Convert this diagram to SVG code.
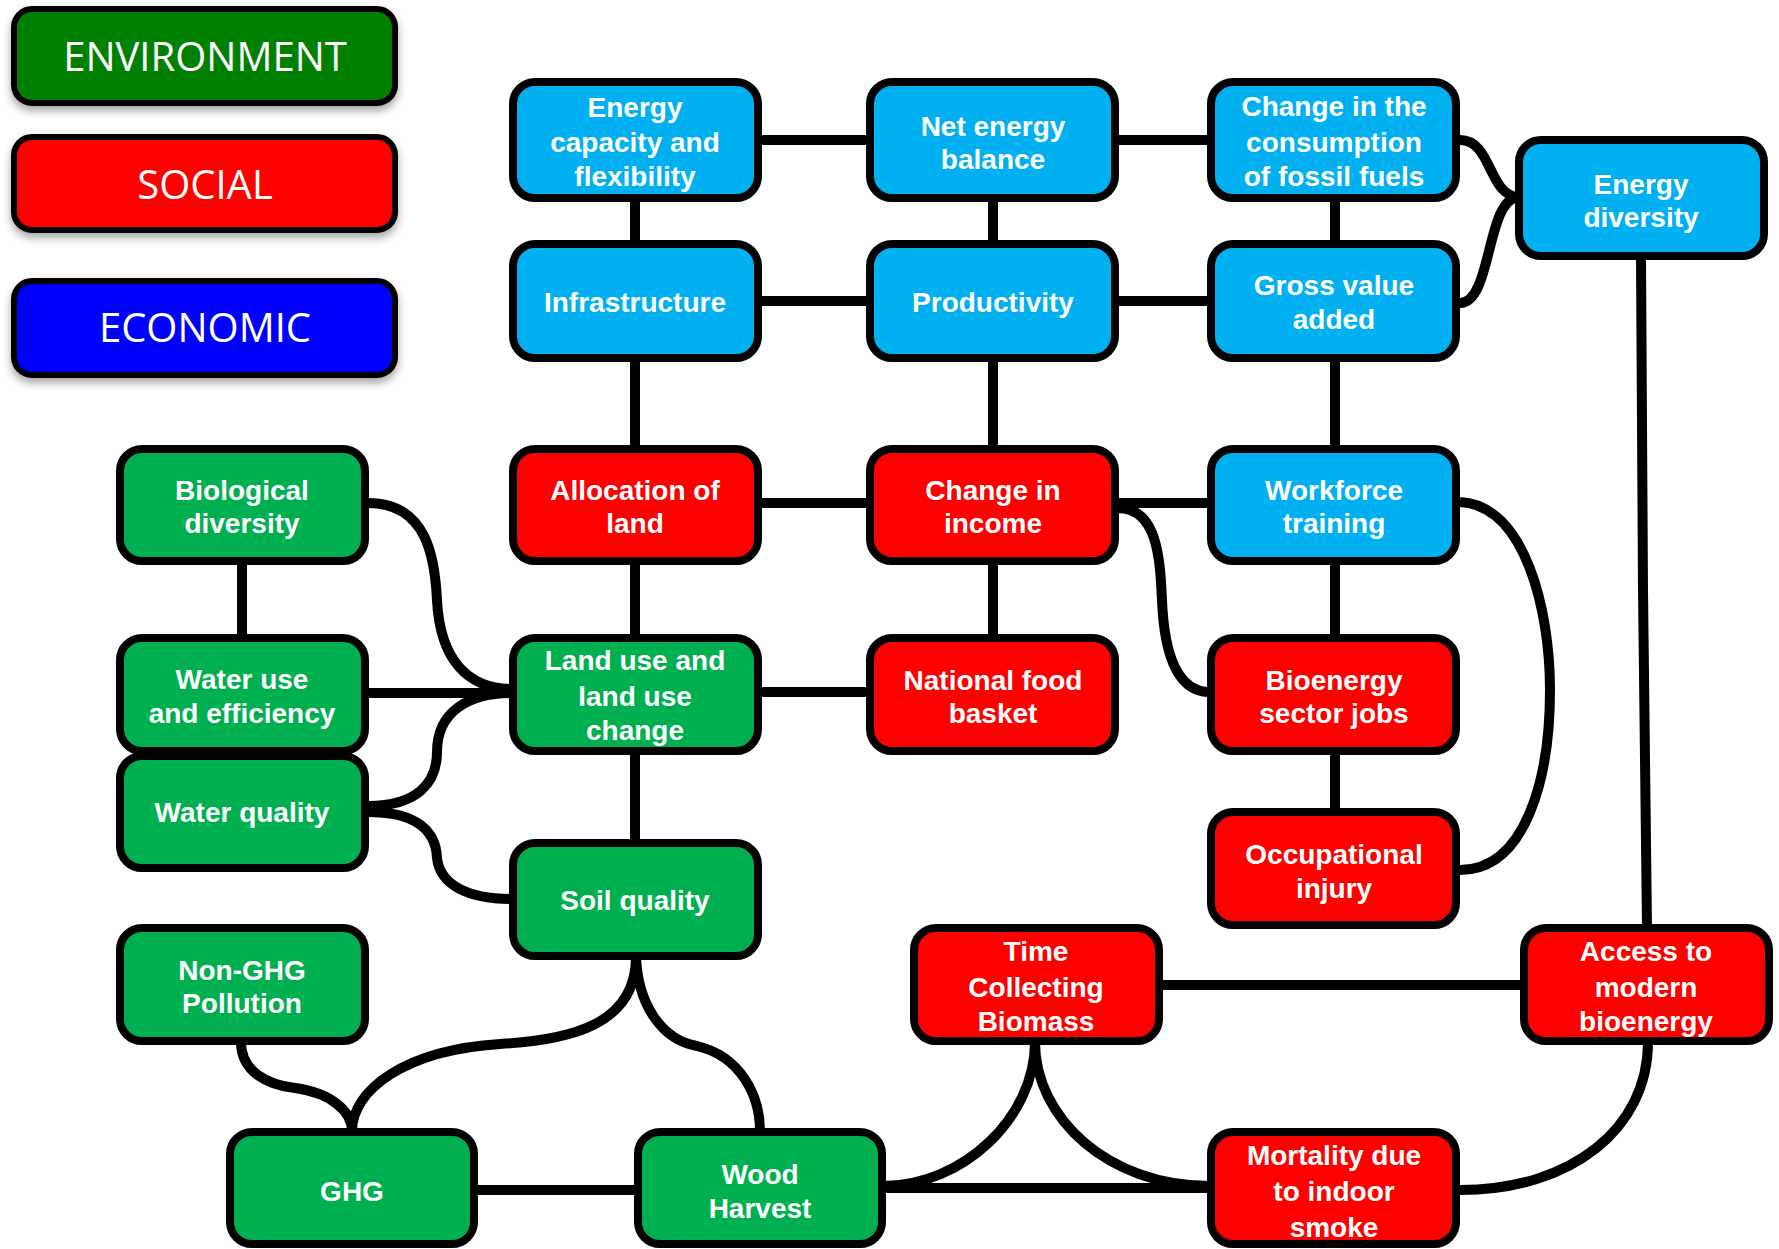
<svg xmlns="http://www.w3.org/2000/svg" width="1779" height="1249" viewBox="0 0 1779 1249">
<defs>
<filter id="sh" x="-10%" y="-10%" width="120%" height="140%">
<feDropShadow dx="0" dy="5" stdDeviation="4" flood-color="#000" flood-opacity="0.35"/>
</filter>
</defs>
<style>
.leg{stroke:#000;stroke-width:6;filter:url(#sh)}
.lt{font-family:"Open Sans","Liberation Sans",sans-serif;font-size:40px;fill:#fff;text-anchor:middle}
.n{stroke:#000;stroke-width:8}
.blue{fill:#00B0F0}
.red{fill:#FF0000}
.green{fill:#00B050}
.t{font-family:"Liberation Sans",Arial,sans-serif;font-weight:bold;font-size:28px;fill:#fff;text-anchor:middle}
.c{fill:none;stroke:#000;stroke-width:10;stroke-linecap:butt}
</style>
<rect width="1779" height="1249" fill="#fff"/>

<g id="legend-environment">
<rect class="leg" x="14" y="9" width="381" height="94" rx="18" fill="#008000"/>
<text class="lt" x="205" y="71">ENVIRONMENT</text>
</g>
<g id="legend-social">
<rect class="leg" x="14" y="137" width="381" height="93" rx="18" fill="#FF0000"/>
<text class="lt" x="205" y="199">SOCIAL</text>
</g>
<g id="legend-economic">
<rect class="leg" x="14" y="281" width="381" height="94" rx="18" fill="#0000FF"/>
<text class="lt" x="205" y="342">ECONOMIC</text>
</g>

<g id="connectors">
<path class="c" d="M760,140 H868"/>
<path class="c" d="M1118,140 H1210"/>
<path class="c" d="M635,200 V243"/>
<path class="c" d="M993,200 V243"/>
<path class="c" d="M1335,200 V243"/>
<path class="c" d="M760,301 H868"/>
<path class="c" d="M1118,301 H1210"/>
<path class="c" d="M1460,140 C1492,140 1488,195 1518,197"/>
<path class="c" d="M1460,303 C1492,303 1486,200 1518,197"/>
<path class="c" d="M635,360 V448"/>
<path class="c" d="M993,360 V448"/>
<path class="c" d="M1335,360 V448"/>
<path class="c" d="M760,503 H868"/>
<path class="c" d="M1118,503 H1210"/>
<path class="c" d="M1118,508 C1158,508 1160,560 1162,600 C1164,650 1175,692 1210,692"/>
<path class="c" d="M1335,562 V637"/>
<path class="c" d="M1335,751 V811"/>
<path class="c" d="M1460,502 C1525,505 1550,610 1550,690 C1550,780 1525,870 1460,870"/>
<path class="c" d="M1641,258 L1643,590 L1647,927"/>
<path class="c" d="M242,562 V637"/>
<path class="c" d="M368,503 C428,503 435,560 437,600 C440,660 468,689 512,689"/>
<path class="c" d="M368,693 H512"/>
<path class="c" d="M368,806 C418,806 437,782 437,752 C437,712 468,693 512,693"/>
<path class="c" d="M368,812 C418,812 436,832 437,858 C440,885 468,899 512,899"/>
<path class="c" d="M635,562 V637"/>
<path class="c" d="M760,692 H868"/>
<path class="c" d="M993,562 V637"/>
<path class="c" d="M635,751 V842"/>
<path class="c" d="M636,957 C636,1025 570,1040 500,1044 C405,1050 352,1090 352,1131"/>
<path class="c" d="M636,957 C638,1005 662,1040 697,1046 C740,1056 760,1095 760,1131"/>
<path class="c" d="M241,1042 C241,1072 268,1085 295,1088 C332,1093 352,1112 352,1131"/>
<path class="c" d="M476,1190 H637"/>
<path class="c" d="M884,1188 H1210"/>
<path class="c" d="M884,1186 C962,1186 1035,1118 1035,1042"/>
<path class="c" d="M1035,1042 C1035,1118 1108,1186 1210,1186"/>
<path class="c" d="M1162,985 H1523"/>
<path class="c" d="M1648,1042 C1648,1128 1572,1190 1460,1190"/>
</g>

<g id="energy-capacity"><rect class="n blue" x="513" y="82" width="245" height="116" rx="22"/>
<text class="t" x="635" y="117">Energy</text><text class="t" x="635" y="152">capacity and</text><text class="t" x="635" y="186">flexibility</text></g>
<g id="net-energy-balance"><rect class="n blue" x="870" y="82" width="245" height="116" rx="22"/>
<text class="t" x="993" y="136">Net energy</text><text class="t" x="993" y="169">balance</text></g>
<g id="fossil-fuels"><rect class="n blue" x="1211" y="82" width="245" height="116" rx="22"/>
<text class="t" x="1334" y="116">Change in the</text><text class="t" x="1334" y="152">consumption</text><text class="t" x="1334" y="186">of fossil fuels</text></g>
<g id="energy-diversity"><rect class="n blue" x="1519" y="140" width="245" height="116" rx="22"/>
<text class="t" x="1641" y="194">Energy</text><text class="t" x="1641" y="227">diversity</text></g>

<g id="infrastructure"><rect class="n blue" x="513" y="244" width="245" height="114" rx="22"/>
<text class="t" x="635" y="312">Infrastructure</text></g>
<g id="productivity"><rect class="n blue" x="870" y="244" width="245" height="114" rx="22"/>
<text class="t" x="993" y="312">Productivity</text></g>
<g id="gross-value-added"><rect class="n blue" x="1211" y="244" width="245" height="114" rx="22"/>
<text class="t" x="1334" y="295">Gross value</text><text class="t" x="1334" y="329">added</text></g>

<g id="allocation-of-land"><rect class="n red" x="513" y="449" width="245" height="112" rx="22"/>
<text class="t" x="635" y="500">Allocation of</text><text class="t" x="635" y="533">land</text></g>
<g id="change-in-income"><rect class="n red" x="870" y="449" width="245" height="112" rx="22"/>
<text class="t" x="993" y="500">Change in</text><text class="t" x="993" y="533">income</text></g>
<g id="workforce-training"><rect class="n blue" x="1211" y="449" width="245" height="112" rx="22"/>
<text class="t" x="1334" y="500">Workforce</text><text class="t" x="1334" y="533">training</text></g>

<g id="biological-diversity"><rect class="n green" x="120" y="449" width="245" height="112" rx="22"/>
<text class="t" x="242" y="500">Biological</text><text class="t" x="242" y="533">diversity</text></g>
<g id="water-use"><rect class="n green" x="120" y="638" width="245" height="113" rx="22"/>
<text class="t" x="242" y="689">Water use</text><text class="t" x="242" y="723">and efficiency</text></g>
<g id="water-quality"><rect class="n green" x="120" y="756" width="245" height="112" rx="22"/>
<text class="t" x="242" y="822">Water quality</text></g>
<g id="non-ghg-pollution"><rect class="n green" x="120" y="928" width="245" height="113" rx="22"/>
<text class="t" x="242" y="980">Non-GHG</text><text class="t" x="242" y="1013">Pollution</text></g>

<g id="land-use"><rect class="n green" x="513" y="638" width="245" height="113" rx="22"/>
<text class="t" x="635" y="670">Land use and</text><text class="t" x="635" y="706">land use</text><text class="t" x="635" y="740">change</text></g>
<g id="national-food-basket"><rect class="n red" x="870" y="638" width="245" height="113" rx="22"/>
<text class="t" x="993" y="690">National food</text><text class="t" x="993" y="723">basket</text></g>
<g id="bioenergy-jobs"><rect class="n red" x="1211" y="638" width="245" height="113" rx="22"/>
<text class="t" x="1334" y="690">Bioenergy</text><text class="t" x="1334" y="723">sector jobs</text></g>

<g id="soil-quality"><rect class="n green" x="513" y="843" width="245" height="113" rx="22"/>
<text class="t" x="635" y="910">Soil quality</text></g>
<g id="occupational-injury"><rect class="n red" x="1211" y="812" width="245" height="113" rx="22"/>
<text class="t" x="1334" y="864">Occupational</text><text class="t" x="1334" y="898">injury</text></g>

<g id="time-collecting"><rect class="n red" x="914" y="928" width="245" height="113" rx="22"/>
<text class="t" x="1036" y="961">Time</text><text class="t" x="1036" y="997">Collecting</text><text class="t" x="1036" y="1031">Biomass</text></g>
<g id="access-modern"><rect class="n red" x="1524" y="928" width="245" height="113" rx="22"/>
<text class="t" x="1646" y="961">Access to</text><text class="t" x="1646" y="997">modern</text><text class="t" x="1646" y="1031">bioenergy</text></g>

<g id="ghg"><rect class="n green" x="230" y="1132" width="244" height="112" rx="22"/>
<text class="t" x="352" y="1201">GHG</text></g>
<g id="wood-harvest"><rect class="n green" x="638" y="1132" width="244" height="112" rx="22"/>
<text class="t" x="760" y="1184">Wood</text><text class="t" x="760" y="1218">Harvest</text></g>
<g id="mortality"><rect class="n red" x="1211" y="1132" width="245" height="112" rx="22"/>
<text class="t" x="1334" y="1165">Mortality due</text><text class="t" x="1334" y="1201">to indoor</text><text class="t" x="1334" y="1237">smoke</text></g>
</svg>
